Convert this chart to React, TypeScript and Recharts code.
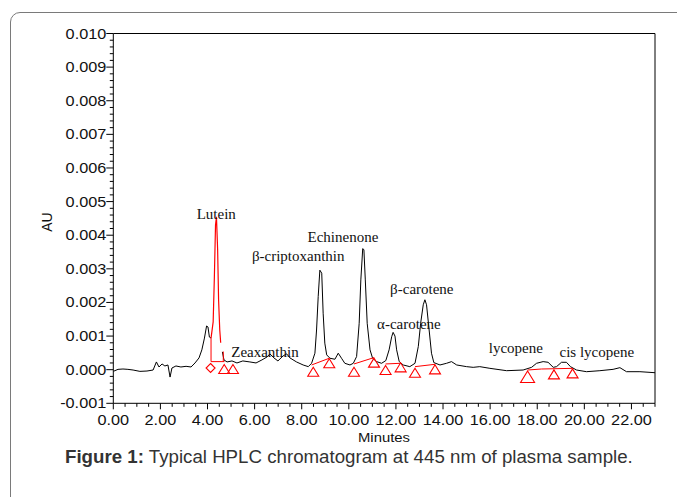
import React from "react";
import { ComposedChart, Line, Scatter, XAxis, YAxis, ReferenceLine } from "recharts";

// ---- data (minutes, AU) ----
const traceBeforeLutein: [number, number][] = [
  [0.0, -0.00005], [0.2, 0.00001], [0.41, 0.00002], [0.62, 0.00001], [0.84, -0.00001],
  [1.13, -0.00005], [1.43, -0.00004], [1.69, -0.00001], [1.83, 0.00023], [1.94, 0.00008],
  [2.07, 0.00017], [2.19, 0.00011], [2.32, 0.00014], [2.41, -0.00022], [2.49, 0.00005],
  [2.66, 0.00011], [2.87, 0.00008], [3.09, 0.0001], [3.3, 0.00008], [3.47, 0.0002],
  [3.64, 0.00035], [3.76, 0.00059], [3.87, 0.00094], [3.96, 0.0013], [4.02, 0.00127],
  [4.08, 0.00097], [4.15, 0.00094],
];

const luteinPeak: [number, number][] = [
  [4.15, 0.00094], [4.24, 0.00142], [4.29, 0.00273], [4.34, 0.0043], [4.38, 0.00455],
  [4.43, 0.00357], [4.47, 0.00208], [4.52, 0.00118], [4.56, 0.0008],
];

const traceAfterLutein: [number, number][] = [
  [4.63, 0.00053], [4.7, 0.00029], [4.83, 0.00023], [5.04, 0.00026], [5.25, 0.0002],
  [5.5, 0.00026], [5.8, 0.00023], [6.06, 0.0002], [6.31, 0.00029], [6.53, 0.00038],
  [6.65, 0.00047], [6.82, 0.00035], [6.99, 0.00026], [7.21, 0.00041], [7.36, 0.00047],
  [7.5, 0.00035], [7.78, 0.00023], [8.06, 0.00014], [8.28, 0.00009], [8.42, 0.00019],
  [8.56, 0.00049], [8.63, 0.00118], [8.7, 0.00218], [8.77, 0.00296], [8.85, 0.00287],
  [8.91, 0.00168], [8.98, 0.00079], [9.06, 0.00044], [9.2, 0.00034], [9.41, 0.00031],
  [9.55, 0.00049], [9.69, 0.00034], [9.83, 0.00019], [10.05, 0.00014], [10.19, 0.00019],
  [10.33, 0.00039], [10.44, 0.00138], [10.51, 0.00267], [10.59, 0.0036], [10.64, 0.00357],
  [10.7, 0.00267], [10.78, 0.00138], [10.9, 0.00059], [11.01, 0.00034], [11.18, 0.00024],
  [11.39, 0.00019], [11.57, 0.00027], [11.71, 0.00059], [11.82, 0.00098], [11.88, 0.00111],
  [11.96, 0.001], [12.03, 0.00059], [12.14, 0.00024], [12.31, 0.00014], [12.59, 0.00009],
  [12.81, 0.00019], [12.95, 0.00069], [13.05, 0.00138], [13.16, 0.00193], [13.23, 0.00208],
  [13.3, 0.00193], [13.41, 0.00118], [13.51, 0.00049], [13.61, 0.00021], [13.87, 0.00014],
  [14.15, 0.00019], [14.36, 0.00024], [14.58, 0.00014], [15.0, 0.00009], [15.28, 0.00007],
  [15.56, 0.00009], [15.99, 0.00004], [16.7, -0.00003], [17.4, -0.00001], [17.76, 0.00007],
  [17.97, 0.00019], [18.25, 0.00024], [18.46, 0.00022], [18.68, 0.00007], [18.82, 0.00009],
  [19.03, 0.00022], [19.24, 0.00022], [19.41, 0.00009], [19.67, -0.00001], [20.09, -0.00006],
  [20.66, -0.00003], [21.22, 0.00001], [21.51, 0.00006], [21.79, -0.00006], [22.36, -0.00006],
  [23.0, -0.00009],
];

// integration baselines / drop lines (red)
const integrationLines: [number, number][][] = [
  [[4.15, 0.00094], [4.15, 0.00024], [4.72, 0.00024]],
  [[4.67, 0.00024], [4.67, 0.00054]],
  [[8.42, 0.00014], [9.17, 0.00034]],
  [[10.22, 0.00017], [11.07, 0.00036]],
  [[11.56, 0.00017], [12.2, 0.00019]],
  [[12.81, 0.00009], [13.66, 0.00016]],
  [[17.59, -0.00001], [18.18, 0.00002], [19.5, 0.00004]],
];

const triangleMarks: [number, number][] = [
  [4.71, 0.00002], [5.08, 0.00002], [8.49, -0.00006], [9.17, 0.00019], [10.22, -0.00006],
  [11.07, 0.00021], [11.56, -0.00001], [12.2, 0.00007], [12.81, -0.00009], [13.66, 0.00001],
  [18.71, -0.00014], [19.5, -0.00011],
];
const largeTriangleMarks: [number, number][] = [[17.59, -0.00021]];
const diamondMarks: [number, number][] = [[4.13, 0.00005]];

const peakNames = ["Lutein", "Zeaxanthin", "β-criptoxanthin", "Echinenone", "α-carotene", "β-carotene", "lycopene", "cis lycopene"];
const peakLabelT = [4.37, 6.44, 7.85, 9.75, 12.55, 13.1, 17.09, 20.53];
const peakLabelAU = [0.00449, 0.00037, 0.00322, 0.00381, 0.0012, 0.00226, 0.00051, 0.00039];

const xTicks = [
  0, 0.5, 1, 1.5, 2, 2.5, 3, 3.5, 4, 4.5, 5, 5.5, 6, 6.5, 7, 7.5, 8, 8.5, 9, 9.5, 10, 10.5,
  11, 11.5, 12, 12.5, 13, 13.5, 14, 14.5, 15, 15.5, 16, 16.5, 17, 17.5, 18, 18.5, 19, 19.5,
  20, 20.5, 21, 21.5, 22, 22.5, 23,
];
const yTicks = [
  -0.001, -0.0008, -0.0006, -0.0004, -0.0002, 0, 0.0002, 0.0004, 0.0006, 0.0008,
  0.001, 0.0012, 0.0014, 0.0016, 0.0018, 0.002, 0.0022, 0.0024, 0.0026, 0.0028,
  0.003, 0.0032, 0.0034, 0.0036, 0.0038, 0.004, 0.0042, 0.0044, 0.0046, 0.0048,
  0.005, 0.0052, 0.0054, 0.0056, 0.0058, 0.006, 0.0062, 0.0064, 0.0066, 0.0068,
  0.007, 0.0072, 0.0074, 0.0076, 0.0078, 0.008, 0.0082, 0.0084, 0.0086, 0.0088,
  0.009, 0.0092, 0.0094, 0.0096, 0.0098, 0.01,
];

const toPts = (a: [number, number][]) => a.map(([t, au]) => ({ t, au }));
const labelPts = peakNames.map((name, i) => ({ name, t: peakLabelT[i], au: peakLabelAU[i] }));

const SANS = "'Liberation Sans', Arial, sans-serif";
const SERIF = "'Liberation Serif', 'Times New Roman', serif";
const STRETCH = 1.1;
const TICK_FONT = 14.8;
const RED = "#ff0000";

const XTick = (props: any) => {
  const { x, y, payload } = props;
  const v = payload.value;
  const major = Math.abs(v / 2 - Math.round(v / 2)) < 1e-9;
  return (
    <g>
      <line x1={x} x2={x} y1={y} y2={y + (major ? 6 : 3.5)} stroke="#000" strokeWidth={1} />
      {major && (
        <text transform={`translate(${x},${y + 22}) scale(${STRETCH},1)`} textAnchor="middle" fontFamily={SANS} fontSize={TICK_FONT} fill="#111">
          {v.toFixed(2)}
        </text>
      )}
    </g>
  );
};

const YTick = (props: any) => {
  const { x, y, payload } = props;
  const v = payload.value;
  const major = Math.abs(v * 1000 - Math.round(v * 1000)) < 1e-6;
  return (
    <g>
      <line x1={x - (major ? 7 : 3.5)} x2={x} y1={y} y2={y} stroke="#000" strokeWidth={1} />
      {major && (
        <text transform={`translate(${x - 7},${y + 5}) scale(${STRETCH},1)`} textAnchor="end" fontFamily={SANS} fontSize={TICK_FONT} fill="#111">
          {(Math.round(v * 1000) / 1000).toFixed(3)}
        </text>
      )}
    </g>
  );
};

const Triangle = (size: number) => (p: any) => {
  const { cx, cy } = p;
  const w = size, h = size * 0.82;
  return (
    <polygon points={`${cx},${cy - h / 2} ${cx - w / 2},${cy + h / 2} ${cx + w / 2},${cy + h / 2}`} fill="none" stroke={RED} strokeWidth={1.1} />
  );
};

const Diamond = (p: any) => {
  const { cx, cy } = p;
  const r = 4.5;
  return <polygon points={`${cx},${cy - r} ${cx + r},${cy} ${cx},${cy + r} ${cx - r},${cy}`} fill="none" stroke={RED} strokeWidth={1.1} />;
};

const PeakLabel = (p: any) => (
  <text x={p.cx} y={p.cy} textAnchor="middle" fontFamily={SERIF} fontSize={15} fill="#111">
    {p.payload.name}
  </text>
);

export default function App() {
  return (
    <div style={{ position: "absolute", left: 0, top: 0, width: 677, height: 497, background: "#fff", overflow: "hidden" }}>
      <div style={{ position: "absolute", left: 10, top: 12, width: 720, height: 540, border: "1.5px solid #7a7a7a", borderRadius: 10, boxSizing: "border-box" }} />
      <div style={{ position: "absolute", left: 0, top: 0 }}>
        <ComposedChart width={677} height={497} margin={{ top: 33.5, right: 22, bottom: 63.7, left: 53.3 }}>
          <XAxis
            type="number"
            dataKey="t"
            domain={[0, 23]}
            allowDataOverflow
            ticks={xTicks}
            interval={0}
            tick={<XTick />}
            tickLine={false}
            tickSize={0}
            tickMargin={0}
            height={30}
            axisLine={{ stroke: "#000", strokeWidth: 1 }}
          />
          <YAxis
            type="number"
            dataKey="au"
            domain={[-0.001, 0.01]}
            allowDataOverflow
            ticks={yTicks}
            interval={0}
            tick={<YTick />}
            tickLine={false}
            tickSize={0}
            tickMargin={0}
            width={60}
            axisLine={{ stroke: "#000", strokeWidth: 1 }}
          />
          <ReferenceLine y={0.01} stroke="#000" strokeWidth={1} />
          <ReferenceLine x={23} stroke="#000" strokeWidth={1} />
          <Line data={toPts(traceBeforeLutein)} dataKey="au" type="linear" stroke="#000" strokeWidth={1} dot={false} isAnimationActive={false} />
          <Line data={toPts(traceAfterLutein)} dataKey="au" type="linear" stroke="#000" strokeWidth={1} dot={false} isAnimationActive={false} />
          {integrationLines.map((seg, i) => (
            <Line key={i} data={toPts(seg)} dataKey="au" type="linear" stroke={RED} strokeWidth={1} dot={false} isAnimationActive={false} />
          ))}
          <Line data={toPts(luteinPeak)} dataKey="au" type="linear" stroke={RED} strokeWidth={1.2} dot={false} isAnimationActive={false} />
          <Scatter data={toPts(triangleMarks)} dataKey="au" shape={Triangle(11)} isAnimationActive={false} />
          <Scatter data={toPts(largeTriangleMarks)} dataKey="au" shape={Triangle(14)} isAnimationActive={false} />
          <Scatter data={toPts(diamondMarks)} dataKey="au" shape={Diamond} isAnimationActive={false} />
          <Scatter data={labelPts} dataKey="au" shape={PeakLabel} isAnimationActive={false} />
        </ComposedChart>
      </div>
      <svg width={677} height={497} style={{ position: "absolute", left: 0, top: 0, pointerEvents: "none" }}>
        <text transform={`translate(384,442) scale(${STRETCH},1)`} textAnchor="middle" fontFamily={SANS} fontSize={13.5} fill="#111">Minutes</text>
        <text transform={`translate(52,222) rotate(-90)`} textAnchor="middle" fontFamily={SANS} fontSize={14} fill="#111">AU</text>
        <text x={65} y={463} fontFamily={SANS} fontSize={18.7} fill="#333">
          <tspan fontWeight="bold">Figure 1:</tspan> Typical HPLC chromatogram at 445 nm of plasma sample.
        </text>
      </svg>
    </div>
  );
}
